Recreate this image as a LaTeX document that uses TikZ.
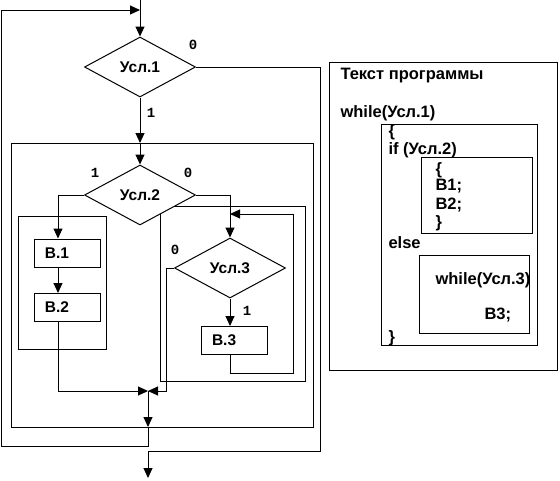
\documentclass[tikz,border=0pt]{standalone}
\usepackage{fontspec}
\setmainfont{Liberation Sans}
\newfontfamily\digitfont{Liberation Mono}
\usetikzlibrary{shapes.geometric,arrows.meta}

\begin{document}
\begin{tikzpicture}[x=1pt, y=-1pt, line width=1pt,
  cond/.style={diamond, draw, fill=white, aspect=1.85, minimum width=111pt, minimum height=60pt, inner sep=0pt, font=\bfseries\fontsize{15.5}{18}\selectfont},
  act/.style={draw, fill=white, text width=44pt, align=left, inner xsep=11pt, minimum height=28pt, font=\bfseries\fontsize{15.5}{18}\selectfont},
  flow/.style={-{Triangle[length=10pt,width=9pt]}},
  branch/.style={font=\digitfont\bfseries\fontsize{14}{16}\selectfont, inner sep=0pt},
  code/.style={anchor=west, inner sep=0pt, font=\bfseries\fontsize{16.5}{19}\selectfont}]
\useasboundingbox (0,0) rectangle (560,480);
% frames of the nested blocks
\draw (11,143) rectangle (313,427);
\draw (18,216) rectangle (106,349);
\draw (160,206) rectangle (305,381);
% blocks
\node[cond] (cond1) at (140,67) {Усл.1};
\node[cond] (cond2) at (140,195) {Усл.2};
\node[cond] (cond3) at (230,268) {Усл.3};
\node[act] (b1) at (67,253) {В.1};
\node[act] (b2) at (67,307.5) {В.2};
\node[act] (b3) at (234,340.5) {В.3};
\coordinate (start) at (140,0);
\coordinate (back) at (140,10);
\coordinate (merge) at (148,391);
\coordinate (exit) at (148,478);
% connectors
\draw[flow] (start) -- (cond1.north);
\draw[flow] (cond1.south) -- (140,143);
\draw[flow] (140,143) -- (cond2.north);
\draw[flow] (cond2.west) -| ([xshift=-9pt]b1.north);
\draw[flow] ([xshift=-9pt]b1.south) -- ([xshift=-9pt]b2.north);
\draw[flow] ([xshift=-9pt]b2.south) |- (merge);
\draw[flow] (cond2.east) -| (cond3.north);
\draw[flow] (cond3.south) -- (cond3.south |- b3.north);
\draw[flow] (cond3.south |- b3.south) -- ++(0,18) -| (293,214) -- (230,214);
\draw[flow] (cond3.west) -- ++(-8,0) |- (merge);
\draw[flow] (merge) -- (148,427);
\draw[flow] (148,427) -- (148,446) -- (1,446) -- (1,10) -- (back);
\draw[flow] (cond1.east) -- (320,67) -- (320,451) -- (148,451) -- (exit);
% branch labels
\node[branch] at (193,45) {0};
\node[branch] at (151,113) {1};
\node[branch] at (95,173) {1};
\node[branch] at (188,173) {0};
\node[branch] at (175,250) {0};
\node[branch] at (247,311) {1};
% program text
\draw (329,62) rectangle (557,370);
\draw (381,124) rectangle (537,345);
\draw (421,157) rectangle (532,233);
\draw (419,255) rectangle (529,333);
\node[code] (title) at (340,76) {Текст программы};
\node[code] (w1) at (340,113) {while(Усл.1)};
\node[code] (ob1) at (388,132) {\{};
\node[code] (if2) at (388,150) {if (Усл.2)};
\node[code] (ob2) at (435,170) {\{};
\node[code] (s1) at (435,186) {В1;};
\node[code] (s2) at (435,205) {В2;};
\node[code] (cb2) at (435,223) {\}};
\node[code] (els) at (388,243) {else};
\node[code] (w3) at (435,280) {while(Усл.3)};
\node[code] (s3) at (484,315) {В3;};
\node[code] (cb1) at (388,338) {\}};
\end{tikzpicture}
\end{document}
